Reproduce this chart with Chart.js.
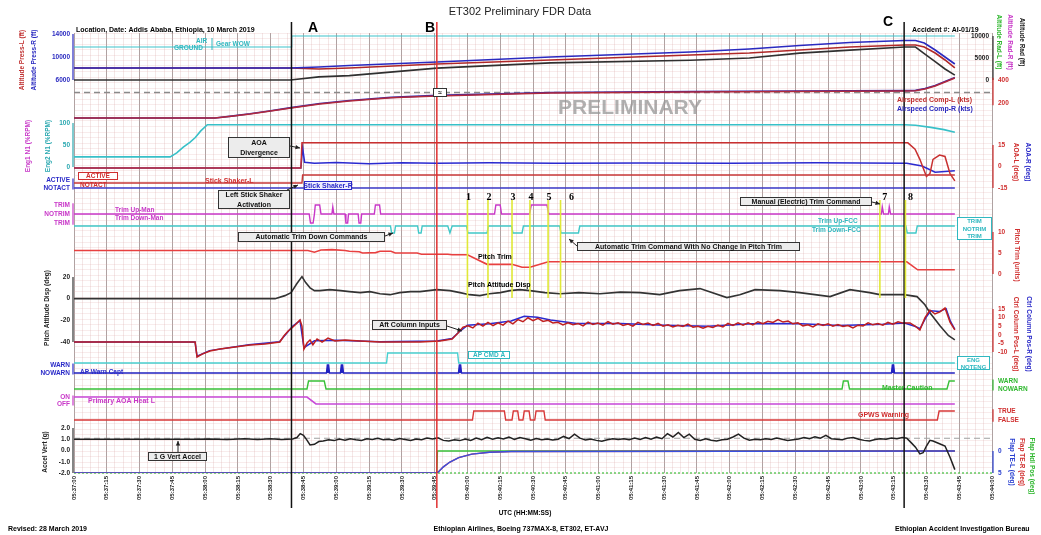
<!DOCTYPE html>
<html><head><meta charset="utf-8">
<script src="https://cdn.jsdelivr.net/npm/chart.js@4.4.1/dist/chart.umd.min.js"></script>
<style>html,body{margin:0;padding:0;background:#fff;overflow:hidden}canvas{display:block}</style>
</head><body><canvas id="c" width="1041" height="535"></canvas>
<script>
// ---------------- DATA (time = seconds after 05:37:00 UTC) ----------------
const timeLabels=['05:37:00','05:37:15','05:37:30','05:37:45','05:38:00','05:38:15','05:38:30','05:38:45','05:39:00','05:39:15','05:39:30','05:39:45','05:40:00','05:40:15','05:40:30','05:40:45','05:41:00','05:41:15','05:41:30','05:41:45','05:42:00','05:42:15','05:42:30','05:42:45','05:43:00','05:43:15','05:43:30','05:43:45','05:44:00'];

const tAlt=[0,99,112,126,166,218,282,309,332,355,380,385,389,394,398.5,403];
const altPressL=[8090,8090,7910,8090,8780,9480,10350,10700,11220,11740,12090,12090,11740,10700,9480,8090];
const altPressR=[8090,8090,8260,8520,9130,10000,10870,11390,12000,12520,12870,12870,12430,11220,10000,8780];
const altRad=[0,0,700,1000,2700,3900,4500,5000,6100,6800,7500,7500,6000,4200,2500,1100];

const tSpd=[0,64.5,72,80.5,90,99.3,112.5,126,145,166,218,282,330,380,385,389.3,394,398.5,403];
const spdL=[70,70,85,104,130,157,191,217,245,261,287,296,300,304,306,322,348,383,417];
const spdR=[70,70,86,106,133,160,195,222,249,266,291,300,304,308,310,326,352,388,421];

const tN1=[0,44,47,50,53,55.5,58,61,380,385,392,398,403];
const n1=[23,23,32,45,56,67,82,96,96,95,90,85,79];

const tAoaL=[0,103.8,104.3,381.5,384.8,387,389,390,391.6,393,396,398.5,400.8,403];
const aoaL=[-1,-1,16.5,16.5,12,5,-3,-7,-5,5,8,7,-5,-10];
const tAoaR=[0,103.8,104.6,105.5,110,120,135,150,166,190,220,260,300,340,381,388,394,403];
const aoaR=[-1,-1,13,3,2.2,2.8,2.0,2.6,2.3,2.7,2.2,2.5,2.3,2.6,2.3,0.3,-4,-3];

const tShakerL=[0,104.3,104.6,403];
const shakerL=[0,0,1,1];
const tShakerR=[0,403];
const shakerR=[0,0];

const tWow=[0,99.3,99.6,403];
const gearWow=[0,0,1,1];

const tTrimMan=[0,107.6,108.2,109.4,110,110.4,112.4,113,118,118.4,118.9,124,124.4,125.2,125.6,130,130.4,131.2,131.6,137.4,137.9,139.8,140.3,192.4,193,195,195.6,208.4,209.2,216.4,217.2,369.4,369.8,370.4,372.6,373,373.6,403];
const trimMan=[0,0,-1,-1,0,1,1,0,0,0.8,0,0,-1,-1,0,0,-1,-1,0,0,1,1,0,0,1,1,0,0,1,1,0,0,0.8,0,0,0.8,0,0];

const tTrimFcc=[0,144.8,145.3,146.6,147.1,157.2,157.7,158.8,159.3,171,172,173,179.6,180.2,189,189.6,200.2,200.8,205,205.6,222.2,222.8,230.8,231.4,380.6,381.2,385.2,385.8,403];
const trimFcc=[0,0,-1,-1,0,0,-1,-1,0,0,-1,0,0,-1,-1,0,0,-1,-1,0,0,-1,-1,0,0,-1,-1,0,0];

const tPitchTrim=[0,107,110,113,118,124,126,130.5,132,138,140,145,147,157,159,171,173,180,189,200.4,205,208.6,217,381,386,403];
const pitchTrim=[5.6,5.6,5.2,5.7,5.8,5.6,5.4,5.3,5.0,5.1,5.4,5.4,5.0,5.0,4.7,4.7,4.6,4.6,2.3,2.3,1.6,1.6,2.9,2.9,1.0,1.0];

const tPitch=[0,92,96.5,99.3,102,104.3,106,108,110,112.5,117,122,126,131,135.4,140,144.6,149,154,158.3,166,172,176.6,181,185.7,190,195,199.5,204,208.6,215.5,222.3,231,240.6,250,259,268,277,286.4,298.7,304.6,311.6,323,332,345.9,355,364,368.7,373,379.7,385.7,389.3,391.6,396.2,400,403];
const pitchAtt=[0,0,2.8,5.6,14,20.4,14.8,10,7.4,7.4,8.3,7.4,6.5,5.6,6.5,4.6,3.7,5.6,6.5,6.5,8.3,7.4,5.6,3.7,2.8,4.6,5.6,7.4,8.3,7.4,5.6,4.6,5.6,4.6,6.0,5.6,3.7,7.4,9.3,1,3.7,8.3,7.4,5.6,1.9,8.3,5.6,3.7,3.7,3.7,1.9,-5.6,-13,-25,-34,-38];

const tColL=[0,55.4,56.3,58.6,62.2,66.8,73.7,80.5,87.4,94.2,96,98,99.7,101.6,103.4,104.3,105.2,106.6,108,109.3,111.2,113.5,116.2,119.4,124,130.8,140,149,158.3,167.4,173,
175.7,178.0,180.3,182.5,184.8,187.1,189.4,191.7,194.0,196.3,198.6,200.8,203.1,205.4,207.7,210.0,212.3,214.6,216.9,219.1,221.4,223.7,226.0,228.3,230.6,232.9,235.2,237.4,239.7,242.0,244.3,246.6,248.9,251.2,253.5,255.7,258.0,260.3,262.6,264.9,267.2,269.5,271.8,274.0,276.3,278.6,280.9,283.2,285.5,287.8,290.0,292.3,294.6,296.9,299.2,301.5,303.8,306.1,308.4,310.6,312.9,315.2,317.5,319.8,322.1,324.4,326.7,328.9,331.2,333.5,335.8,338.1,340.4,342.7,345.0,347.2,349.5,351.8,354.1,356.4,358.7,361.0,363.3,365.5,367.8,370.1,372.4,374.7,377.0,379.3,
382.5,384.8,387,389.3,391.6,393.9,396.2,398.5,400.8,403];
const colL=[-4.2,-4.2,-12.9,-11.2,-9.4,-8.3,-7.1,-5.9,-5.3,-4.2,-0.7,2.2,4.0,6.3,8.6,5.1,-8.3,-4.8,-3.0,-5.9,-2.4,-4.2,-1.9,-3.6,-3.0,-3.6,-4.2,-4.2,-4.2,-3.6,-2.4,
1.0,4.5,5.2,4.0,6.8,5.0,7.2,5.3,7.0,5.6,8.0,6.4,8.8,7.6,9.9,8.2,9.6,7.8,8.4,6.9,7.3,5.8,7.0,5.9,6.6,5.2,7.4,6.0,6.8,5.6,7.6,6.2,7.0,5.4,6.2,5.0,7.2,6.0,6.9,5.5,6.6,5.0,5.8,4.6,5.6,4.8,6.2,4.4,5.0,3.8,5.0,4.3,5.6,4.6,6.6,5.4,6.9,5.6,7.0,5.8,7.6,6.4,7.9,7.2,8.8,7.4,8.0,6.4,7.0,5.2,5.8,4.6,6.4,5.4,6.4,5.0,6.0,4.8,5.4,4.0,5.6,5.2,7.0,5.8,6.6,5.6,7.2,6.2,7.6,6.8,
6.9,5.1,2.8,9.8,14.4,12.1,13.3,15.6,7.4,2.8];
const tColR=[0,55.4,56.3,62,80,94,100,103.4,105.2,110,120,140,166,173,176,180,190,200,206,212,218,230,250,270,290,310,330,350,370,380,385,387,390,392,396,399,401,403];
const colR=[-4.2,-4.2,-12.5,-9.2,-5.8,-4.0,5,8.2,-7.5,-3.5,-3.2,-4.0,-3.6,-2.2,1.5,5.5,6.4,8.0,10.8,10.2,8.6,6.6,6.6,5.6,4.9,6.4,6.5,5.4,6.2,6.9,4.8,3.5,10.5,14,13.6,15.2,7.8,3.2];

const tApCmd=[0,143,143.5,175.5,176,403];
const apCmdA=[0,0,1,1,0,0];
const tApWarn=[0,115.5,115.9,116.5,116.9,121.9,122.3,122.9,123.3,175.9,176.3,176.9,177.3,374,374.4,375,375.4,403];
const apWarn=[0,0,1,1,0,0,1,1,0,0,1,1,0,0,1,1,0,0];
const tMaster=[0,106.6,107.3,114.5,115.3,351.4,352,354.1,354.8,399.4,400.4,403];
const masterCaution=[0,0,1,1,0,0,1,1,0,0,1,1];
const tHeat=[0,106.6,110.7,403];
const aoaHeat=[1,1,0,0];
const tGpws=[0,182.3,182.9,196.9,197.5,200.4,201,203,203.6,205.4,206,208.2,208.8,210.8,211.4,215,215.6,395,395.8,403];
const gpws=[0,0,1,1,0,0,1,1,0,0,1,1,0,0,1,1,0,0,1,1];

const tAcc=[0,15,30,45,55,62,70,78,84,90,95,100,102,103.5,105,106.5,108,110,112,
114,116.5,119,121.5,124,126.5,129,131.5,134,136.5,139,141.5,144,146.5,149,151.5,154,156.5,159,161.5,164,166.5,169,171.5,174,176.5,179,181.5,184,186.5,189,191.5,194,196.5,199,201.5,204,206.5,209,211.5,214,216.5,219,221.5,224,226.5,229,231.5,234,236.5,239,241.5,244,246.5,249,251.5,254,256.5,259,261.5,264,266.5,269,271.5,274,276.5,279,281.5,284,286.5,289,291.5,294,296.5,299,301.5,304,306.5,309,311.5,314,316.5,319,321.5,324,326.5,329,331.5,334,336.5,339,341.5,344,346.5,349,351.5,354,356.5,359,361.5,364,366.5,369,371.5,374,376.5,379,
381,383,385,387,388.5,390,391.6,393,396,398.5,400.8,403];
const accVert=[1.0,1.0,1.01,0.99,1.0,1.03,0.98,1.04,0.97,1.05,0.98,1.02,1.15,1.5,1.35,0.95,0.5,0.55,0.8,
0.85,0.95,0.88,1.02,0.92,1.05,0.96,0.9,1.04,0.97,1.08,0.95,1.0,0.92,1.06,0.98,0.9,1.03,0.96,1.1,1.02,1.12,0.9,0.84,0.95,0.88,1.02,0.9,1.1,0.96,1.18,1.0,1.14,1.02,1.2,0.98,1.15,1.05,0.92,1.06,0.95,1.02,0.94,1.0,1.25,1.05,1.45,1.1,0.93,1.02,0.9,0.82,0.95,1.05,0.98,1.05,0.95,1.1,0.98,1.15,1.0,1.2,1.05,1.5,1.2,1.6,1.15,1.45,1.0,0.9,1.05,0.92,0.85,0.95,1.0,1.2,1.45,1.1,0.92,1.0,0.95,1.05,0.98,1.1,1.0,0.9,0.96,1.02,1.15,1.05,1.22,1.1,1.35,1.05,1.0,0.95,1.1,1.15,1.0,0.9,0.85,0.98,1.05,1.0,1.12,1.05,1.15,
1.1,0.7,0.3,-0.3,-0.2,0.4,0.9,0.85,0.6,0.4,-0.6,-1.7];

const tFlap=[0,166,167,169,172,176,182,190,200,403];
const flapTE=[5,5,4.6,3.6,2.5,1.5,0.7,0.3,0.1,0];
const tFlapHdl=[0,166,166.3,403];
const flapHdl=[5,5,0,0];

const events=[{name:'A',t:99.5,color:'#111'},{name:'B',t:166,color:'#e03030'},{name:'C',t:379.8,color:'#111'}];
const trimEvents=[180,189.4,200.4,208.6,216.9,222.6,368.7,380.4];
const trimEventNames=['1','2','3','4','5','6','7','8'];

// ---------------- LAYOUT HELPERS ----------------
const TOP=33, BOT=473;
function rng(v1,p1,v2,p2){const s=(v1-v2)/(p2-p1);const a=v1+(p1-TOP)*s,b=v1-(BOT-p1)*s;return a>b?{min:b,max:a}:{min:a,max:b,reverse:true};}
const axisMap={
 yAlt:rng(14000,34,6000,80), yRad:rng(10000,36,0,80), ySpd:rng(400,80,200,103),
 yN1:rng(100,123,0,167), yAoa:rng(15,145,-15,188), ySsL:rng(1,175,0,183), ySsR:rng(1,180,0,188),
 yWow:rng(1,36,0,47), yTrimM:rng(1,205,0,214), yTrimF:rng(0,226,-1,233), yPtrim:rng(10,232,0,274),
 yPitch:rng(20,277,-40,342), yCol:rng(15,309,-10,352), yApc:rng(1,353,0,363), yApw:rng(1,365,0,373),
 yMc:rng(1,381,0,389), yHeat:rng(1,397,0,404), yGpws:rng(1,411,0,420), yAcc:rng(2,428,-2,473), yFlap:rng(0,451,5,473)
};
const FONT='"Liberation Sans", Arial, sans-serif';
const scales={
 x:{type:'linear',axis:'x',min:0,max:420,position:'bottom',
   ticks:{stepSize:15,autoSkip:false,minRotation:90,maxRotation:90,padding:3,color:'#222',font:{family:FONT,size:6,weight:'bold'},
     callback:(v)=>{const i=Math.round(v/15);return timeLabels[i]||'';}},
   grid:{color:'#a0a0a0',lineWidth:1,drawTicks:false},border:{display:false},
   afterFit:(s)=>{s.height=30;}},
 xMinor:{type:'linear',axis:'x',min:0,max:420,position:'bottom',display:true,
   ticks:{display:false,stepSize:3.75,maxTicksLimit:1000},grid:{color:'rgba(215,170,170,0.28)',drawTicks:false},border:{display:false},
   afterFit:(s)=>{s.height=0;}},
 yGrid:{type:'linear',axis:'y',min:0,max:80,position:'left',display:true,
   ticks:{display:false,stepSize:1,maxTicksLimit:1000},grid:{color:'rgba(225,170,170,0.22)',drawTicks:false},border:{display:false},
   afterFit:(s)=>{s.width=0;}}
};
for(const k in axisMap){scales[k]=Object.assign({type:'linear',axis:'y',position:'left',display:false},axisMap[k]);}

const dsList=[];
function ser(t,v,axis,color,w,extra){dsList.push(Object.assign({data:t.map((x,i)=>({x:x,y:v[i]})),xAxisID:'x',yAxisID:axis,borderColor:color,backgroundColor:color,borderWidth:w,pointRadius:0,fill:false,tension:0},extra||{}));}
// paint order: first = bottom
ser(tAlt,altPressL,'yAlt','#b02828',1.6);
ser(tAlt,altPressR,'yAlt','#2a2ac0',1.6);
ser(tAlt,altRad,'yRad','#303030',1.6);
ser(tWow,gearWow,'yWow','#3cc4cc',1.2);
ser(tSpd,spdR,'ySpd','#3a2aa8',1.6);
ser(tSpd,spdL,'ySpd','#b0283c',1.6);
ser(tN1,n1,'yN1','#38c0c8',1.6);
ser(tAoaR,aoaR,'yAoa','#2a2ad0',1.5);
ser(tAoaL,aoaL,'yAoa','#c83030',1.5);
ser(tShakerR,shakerR,'ySsR','#3a3ac8',1.4);
ser(tShakerL,shakerL,'ySsL','#c83838',1.4);
ser(tTrimMan,trimMan,'yTrimM','#c838c8',1.4);
ser(tTrimFcc,trimFcc,'yTrimF','#40c8c8',1.4);
ser(tPitchTrim,pitchTrim,'yPtrim','#e84040',1.6);
ser(tPitch,pitchAtt,'yPitch','#333333',1.6);
ser(tColR,colR,'yCol','#2a2ad0',1.5);
ser(tColL,colL,'yCol','#c02020',1.5);
ser(tApCmd,apCmdA,'yApc','#48d0d0',1.4);
ser(tApWarn,apWarn,'yApw','#2222c0',1.4,{fill:{target:{value:0}},backgroundColor:'#2222c0'});
ser(tMaster,masterCaution,'yMc','#38c038',1.4);
ser(tHeat,aoaHeat,'yHeat','#c848d8',1.6);
ser(tGpws,gpws,'yGpws','#d83838',1.4);
ser(tFlapHdl,flapHdl,'yFlap','#38c038',1.3);
ser(tFlap,flapTE,'yFlap','#d83838',1.4);
ser(tFlap,flapTE,'yFlap','#3a50e0',1.4);
ser(tAcc,accVert,'yAcc','#222222',1.5);
dsList.forEach((d,i)=>{d.order=dsList.length-i;});

// ---------------- TEXT / DECORATION ----------------
function T(ctx,s,x,y,o){o=o||{};ctx.save();ctx.font=(o.w||'bold')+' '+(o.s||7)+'px '+(o.fam||FONT);ctx.fillStyle=o.c||'#000';ctx.textAlign=o.a||'left';ctx.textBaseline='middle';ctx.translate(x,y);if(o.r)ctx.rotate(o.r*Math.PI/180);ctx.fillText(s,0,0);ctx.restore();}
function box(ctx,lines,x1,y1,x2,y2,o){o=o||{};ctx.save();ctx.fillStyle=o.bg||'#ececec';ctx.fillRect(x1,y1,x2-x1,y2-y1);ctx.strokeStyle=o.bc||'#333';ctx.lineWidth=1;ctx.strokeRect(x1+0.5,y1+0.5,x2-x1-1,y2-y1-1);ctx.restore();const n=lines.length,h=(y2-y1)/n;lines.forEach((l,i)=>T(ctx,l,(x1+x2)/2,y1+h*(i+0.5)+0.5,{a:'center',s:o.s||7,c:o.c||'#111'}));}
function arrow(ctx,x1,y1,x2,y2,c){ctx.save();ctx.strokeStyle=c||'#222';ctx.fillStyle=c||'#222';ctx.lineWidth=1;ctx.beginPath();ctx.moveTo(x1,y1);ctx.lineTo(x2,y2);ctx.stroke();const a=Math.atan2(y2-y1,x2-x1);ctx.beginPath();ctx.moveTo(x2,y2);ctx.lineTo(x2-5*Math.cos(a-0.45),y2-5*Math.sin(a-0.45));ctx.lineTo(x2-5*Math.cos(a+0.45),y2-5*Math.sin(a+0.45));ctx.closePath();ctx.fill();ctx.restore();}
function vline(ctx,x,y1,y2,c,w,dash){ctx.save();ctx.strokeStyle=c;ctx.lineWidth=w;if(dash)ctx.setLineDash(dash);ctx.beginPath();ctx.moveTo(x,y1);ctx.lineTo(x,y2);ctx.stroke();ctx.restore();}
function hline(ctx,x1,x2,y,c,w,dash){ctx.save();ctx.strokeStyle=c;ctx.lineWidth=w;if(dash)ctx.setLineDash(dash);ctx.beginPath();ctx.moveTo(x1,y);ctx.lineTo(x2,y);ctx.stroke();ctx.restore();}

const leftTicks=[
 {ax:'yAlt',vals:[14000,10000,6000],c:'#2a2ac0'},
 {ax:'yN1',vals:[100,50,0],c:'#2aa8b0'},
 {ax:'yPitch',vals:[20,0,-20,-40],c:'#222'},
 {ax:'yAcc',vals:[2,1,0,-1,-2],c:'#222',fmt:v=>v.toFixed(1)}
];
const rightTicks=[
 {ax:'yRad',vals:[10000,5000,0],c:'#222',inside:true},
 {ax:'ySpd',vals:[400,200],c:'#d03030'},
 {ax:'yAoa',vals:[15,0,-15],c:'#d03030'},
 {ax:'yPtrim',vals:[10,5,0],c:'#d03030'},
 {ax:'yCol',vals:[15,10,5,0,-5,-10],c:'#d03030'},
 {ax:'yFlap',vals:[0,5],c:'#2a40d0'}
];
const leftStates=[
 {ax:'ySsR',map:[[1,'ACTIVE'],[0,'NOTACT']],c:'#2a2ac8'},
 {ax:'yTrimM',map:[[1,'TRIM'],[0,'NOTRIM'],[-1,'TRIM']],c:'#c838c8'},
 {ax:'yApw',map:[[1,'WARN'],[0,'NOWARN']],c:'#2a2ac8'},
 {ax:'yHeat',map:[[1,'ON'],[0,'OFF']],c:'#c838c8'}
];
const rightStates=[
 {ax:'yMc',map:[[1,'WARN'],[0,'NOWARN']],c:'#30b830'},
 {ax:'yGpws',map:[[1,'TRUE'],[0,'FALSE']],c:'#d03030'}
];

const deco={id:'deco',
 beforeDatasetsDraw(chart){const ctx=chart.ctx;const ca=chart.chartArea;
   T(ctx,'PRELIMINARY',630,108,{a:'center',s:21,c:'rgba(150,150,150,0.75)'});
   hline(ctx,ca.left,ca.right,92.5,'#8a8a8a',1.4,[6,4]);
   hline(ctx,ca.left,ca.right,chart.scales.yAcc.getPixelForValue(1)-1,'#a0a0a0',1.2,[6,4]);
   hline(ctx,ca.left,ca.right,ca.bottom,'#40c040',1.2,[2,2]);
 },
 afterDraw(chart){const ctx=chart.ctx;const ca=chart.chartArea;const sx=chart.scales.x;const S=chart.scales;
   const L=ca.left,R=ca.right;
   T(ctx,'ET302 Preliminary FDR Data',520,12,{a:'center',s:11,w:'normal',c:'#222'});
   T(ctx,'Location, Date: Addis Ababa, Ethiopia, 10 March 2019',76,30,{s:7});
   T(ctx,'Accident #: AI-01/19',912,30,{s:7});
   T(ctx,'Revised: 28 March 2019',8,529,{s:7});
   T(ctx,'Ethiopian Airlines, Boeing 737MAX-8, ET302, ET-AVJ',521,529,{a:'center',s:7});
   T(ctx,'Ethiopian Accident Investigation Bureau',895,529,{s:7});
   T(ctx,'UTC (HH:MM:SS)',525,513,{a:'center',s:6.5});
   events.forEach(e=>{const x=sx.getPixelForValue(e.t);vline(ctx,x,22,508,e.color,1.5);});
   T(ctx,'A',313,28,{a:'center',s:14});T(ctx,'B',430,28,{a:'center',s:14});T(ctx,'C',888,22,{a:'center',s:14});
   trimEvents.forEach((t,i)=>{const x=sx.getPixelForValue(t);vline(ctx,x,200,298,'#e0e838',1.6);
     T(ctx,trimEventNames[i],x+(i==5?11:(i>=6?5:1)),197,{a:'center',s:10,fam:'"Liberation Serif", serif'});});
   const seg=(ax,v1,v2,x,c)=>vline(ctx,x,S[ax].getPixelForValue(v1),S[ax].getPixelForValue(v2),c,1.2);
   seg('yAlt',14000,6000,L-1,'#2a2ac0');seg('yN1',100,0,L-1,'#2aa8b0');seg('yPitch',20,-40,L-1,'#333');seg('yAcc',2,-2,L-1,'#333');
   seg('yRad',10000,0,R+1,'#333');seg('ySpd',420,180,R+1,'#d03030');seg('yAoa',15,-15,R+1,'#d03030');seg('yPtrim',10,0,R+1,'#d03030');seg('yCol',15,-10,R+1,'#d03030');seg('yFlap',0,5,R+1,'#2a40d0');
   seg('ySsR',1.2,-0.2,L-1,'#2a2ac8');seg('yTrimM',1.2,-1.2,L-1,'#c838c8');seg('yApw',1.2,-0.2,L-1,'#2a2ac8');seg('yHeat',1.2,-0.2,L-1,'#c838c8');
   seg('yMc',1.2,-0.2,R+1,'#30b830');seg('yGpws',1.2,-0.2,R+1,'#d03030');
   leftTicks.forEach(g=>g.vals.forEach(v=>T(ctx,g.fmt?g.fmt(v):String(v),L-4,S[g.ax].getPixelForValue(v),{a:'right',s:6.5,c:g.c})));
   rightTicks.forEach(g=>g.vals.forEach(v=>T(ctx,String(v),g.inside?R-3:R+6,S[g.ax].getPixelForValue(v),{a:g.inside?'right':'left',s:6.5,c:g.c})));
   leftStates.forEach(g=>g.map.forEach(m=>T(ctx,m[1],L-4,S[g.ax].getPixelForValue(m[0]),{a:'right',s:6.5,c:g.c})));
   rightStates.forEach(g=>g.map.forEach(m=>T(ctx,m[1],R+6,S[g.ax].getPixelForValue(m[0]),{s:6.5,c:g.c})));
   T(ctx,'Altitude Press-L (ft)',22,60,{a:'center',s:6.5,c:'#c03030',r:-90});
   T(ctx,'Altitude Press-R (ft)',34,60,{a:'center',s:6.5,c:'#2a2ac0',r:-90});
   T(ctx,'Eng1 N1 (%RPM)',28,146,{a:'center',s:6.5,c:'#c838c8',r:-90});
   T(ctx,'Eng2 N1 (%RPM)',48,146,{a:'center',s:6.5,c:'#2aa8b0',r:-90});
   T(ctx,'Pitch Attitude Disp (deg)',47,308,{a:'center',s:6.5,c:'#222',r:-90});
   T(ctx,'Accel Vert (g)',45,452,{a:'center',s:6.5,c:'#222',r:-90});
   T(ctx,'Altitude Rad-L (ft)',999,42,{a:'center',s:6.5,c:'#30b830',r:90});
   T(ctx,'Altitude Rad-R (ft)',1010,42,{a:'center',s:6.5,c:'#c838c8',r:90});
   T(ctx,'Altitude Rad (ft)',1022,42,{a:'center',s:6.5,c:'#222',r:90});
   T(ctx,'AOA-L (deg)',1016,162,{a:'center',s:6.5,c:'#d03030',r:90});
   T(ctx,'AOA-R (deg)',1028,162,{a:'center',s:6.5,c:'#2a2ac8',r:90});
   T(ctx,'Pitch Trim (units)',1017,255,{a:'center',s:6.5,c:'#d03030',r:90});
   T(ctx,'Ctrl Column Pos-L (deg)',1016,334,{a:'center',s:6.5,c:'#d03030',r:90});
   T(ctx,'Ctrl Column Pos-R (deg)',1029,334,{a:'center',s:6.5,c:'#2a2ac8',r:90});
   T(ctx,'Flap TE-L (deg)',1012,462,{a:'center',s:6.5,c:'#2a40d0',r:90});
   T(ctx,'Flap TE-R (deg)',1022,462,{a:'center',s:6.5,c:'#d03030',r:90});
   T(ctx,'Flap Hdl Pos (deg)',1032,466,{a:'center',s:6.5,c:'#30b830',r:90});
   T(ctx,'AIR',196,41,{s:6.5,c:'#30b8c0'});T(ctx,'GROUND',174,48,{s:6.5,c:'#30b8c0'});vline(ctx,212,38,50,'#30b8c0',1);T(ctx,'Gear WOW',216,44,{s:6.5,c:'#30b8c0'});
   box(ctx,['≈'],433,88,447,97,{s:7,bg:'#fff'});
   T(ctx,'Airspeed Comp-L (kts)',897,100,{s:7,c:'#c03030'});
   T(ctx,'Airspeed Comp-R (kts)',897,109,{s:7,c:'#2a2ac0'});
   box(ctx,['ACTIVE'],78,172,118,180,{s:6.5,bg:'#fff',bc:'#d03030',c:'#d03030'});
   T(ctx,'NOTACT',80,185,{s:6.5,c:'#d03030'});
   T(ctx,'Stick Shaker-L',205,181,{s:7,c:'#d03030'});
   box(ctx,['Stick Shaker-R'],304,181,352,190,{s:7,bg:'#eef',bc:'#2a2ac8',c:'#2a2ac8'});
   T(ctx,'Trim Up-Man',115,210,{s:6.5,c:'#c838c8'});T(ctx,'Trim Down-Man',115,218,{s:6.5,c:'#c838c8'});
   T(ctx,'Trim Up-FCC',818,221,{s:6.5,c:'#30b8c0'});T(ctx,'Trim Down-FCC',812,230,{s:6.5,c:'#30b8c0'});
   box(ctx,['TRIM','NOTRIM','TRIM'],957,217,992,240,{s:6,bg:'#fff',bc:'#30b8c0',c:'#30b8c0'});
   box(ctx,['ENG','NOTENG'],957,356,990,370,{s:6,bg:'#fff',bc:'#30b8c0',c:'#30b8c0'});
   box(ctx,['AP CMD A'],468,351,510,359,{s:6.5,bg:'#fff',bc:'#30b8c0',c:'#30b8c0'});
   T(ctx,'AP Warn Capt',80,372,{s:6.5,c:'#2a2ac8'});
   T(ctx,'Master Caution',882,388,{s:7,c:'#30b830'});
   T(ctx,'Primary AOA Heat L',88,401,{s:7,c:'#c838c8'});
   T(ctx,'GPWS Warning',858,415,{s:7,c:'#d03030'});
   T(ctx,'Pitch Trim',478,257,{s:7});
   T(ctx,'Pitch Attitude Disp',468,285,{s:7});
   box(ctx,['AOA','Divergence'],228,137,290,158,{s:7});arrow(ctx,290,146,300,148);
   box(ctx,['Left Stick Shaker','Activation'],218,190,290,209,{s:7});arrow(ctx,287,190,298,185);
   box(ctx,['Automatic Trim Down Commands'],238,232,385,242,{s:7});arrow(ctx,385,236,393,233);
   box(ctx,['Automatic Trim Command With No Change In Pitch Trim'],577,242,800,251,{s:7});arrow(ctx,577,246,569,239);
   box(ctx,['Manual (Electric) Trim Command'],740,197,872,206,{s:7});arrow(ctx,872,202,880,204);
   box(ctx,['Aft Column Inputs'],372,320,447,330,{s:7});arrow(ctx,447,326,462,331);
   box(ctx,['1 G Vert Accel'],148,452,207,461,{s:7});arrow(ctx,178,452,178,441);
 }};

new Chart(document.getElementById('c'),{type:'line',data:{datasets:dsList},
 options:{responsive:false,animation:false,devicePixelRatio:1,events:[],
  layout:{padding:{left:74,right:49,top:TOP,bottom:535-BOT-30}},
  scales:scales,
  plugins:{legend:{display:false},tooltip:{enabled:false},title:{display:false}}},
 plugins:[deco]});
</script></body></html>
